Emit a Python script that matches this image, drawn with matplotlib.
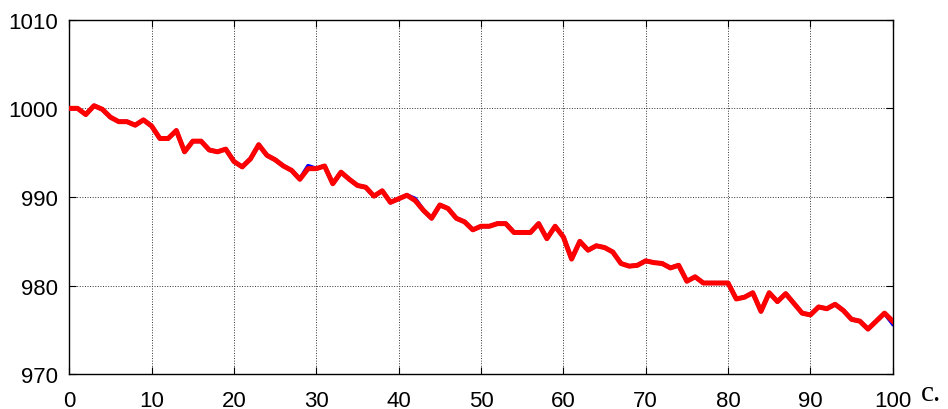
import matplotlib.pyplot as plt
import numpy as np

plt.rcParams["font.family"] = ["Liberation Sans", "DejaVu Sans"]
plt.rcParams["font.size"] = 16

# values, one per step 0..100
red = [1000.0, 1000.0, 999.3, 1000.3, 999.9, 999.0, 998.5, 998.5, 998.1, 998.7,
       998.0, 996.6, 996.6, 997.5, 995.1, 996.3, 996.3, 995.3, 995.1, 995.4,
       994.0, 993.4, 994.3, 995.9, 994.7, 994.2, 993.5, 993.0, 992.0, 993.2,
       993.2, 993.5, 991.5, 992.8, 992.0, 991.3, 991.1, 990.1, 990.7, 989.4,
       989.8, 990.2, 989.6, 988.5, 987.6, 989.1, 988.7, 987.6, 987.2, 986.3,
       986.7, 986.7, 987.0, 987.0, 986.0, 986.0, 986.0, 987.0, 985.3, 986.7,
       985.5, 983.0, 985.0, 984.0, 984.5, 984.3, 983.8, 982.5, 982.2, 982.3,
       982.8, 982.6, 982.5, 982.0, 982.3, 980.5, 981.0, 980.3, 980.3, 980.3,
       980.3, 978.5, 978.7, 979.2, 977.1, 979.2, 978.2, 979.1, 978.0, 976.9,
       976.7, 977.6, 977.4, 977.9, 977.2, 976.2, 976.0, 975.1, 976.0, 976.9,
       976.0]
# the blue series lies under the red one and only shows in a few places
blue_diff = {29: 993.5, 42: 989.8, 100: 975.7}
blue = [blue_diff.get(i, v) for i, v in enumerate(red)]
steps = np.arange(len(red))

fig = plt.figure(figsize=(9.48, 4.10), dpi=100)
ax = fig.add_axes([0.0731, 0.0846, 0.8686, 0.8649])

ax.plot(steps, blue, color="blue", lw=3, zorder=2)
ax.plot(steps, red, color="red", lw=3.6, zorder=3)

ax.set_xlim(0, 100)
ax.set_ylim(970, 1010)
ax.set_xticks(np.arange(0, 101, 10))
ax.set_yticks(np.arange(970, 1011, 10))
ax.grid(True, color="#333333", linestyle=":", linewidth=0.7)
ax.tick_params(direction="in", top=True, right=True, length=5, width=0.8,
               colors="black")
ax.tick_params(axis="x", pad=11)
ax.tick_params(axis="y", pad=8)
for spine in ax.spines.values():
    spine.set_linewidth(1.0)

fig.text(0.9715, 0.022, "c.", fontsize=21, family="Liberation Serif",
         ha="left", va="baseline")

fig.savefig("out.png", dpi=100)
